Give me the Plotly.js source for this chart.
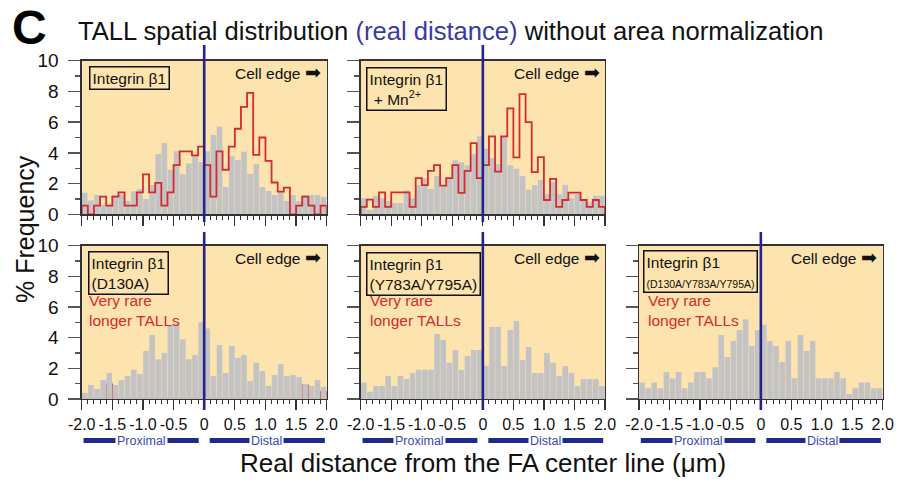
<!DOCTYPE html>
<html>
<head>
<meta charset="utf-8">
<script src="https://cdn.plot.ly/plotly-3.0.1.min.js"></script>
<style>html,body{margin:0;padding:0;background:#fff;}#chart{width:910px;height:482px;}</style>
</head>
<body>
<div id="chart"></div>
<script>
// ---------- DATA ----------
const binWidth = 0.1;
const binCenters = [-1.95,-1.85,-1.75,-1.65,-1.55,-1.45,-1.35,-1.25,-1.15,-1.05,
                    -0.95,-0.85,-0.75,-0.65,-0.55,-0.45,-0.35,-0.25,-0.15,-0.05,
                     0.05, 0.15, 0.25, 0.35, 0.45, 0.55, 0.65, 0.75, 0.85, 0.95,
                     1.05, 1.15, 1.25, 1.35, 1.45, 1.55, 1.65, 1.75, 1.85, 1.95];
const xTickVals = [-2,-1.5,-1,-0.5,0,0.5,1,1.5,2];
const xTickText = ['-2.0','-1.5','-1.0','-0.5','0','0.5','1.0','1.5','2.0'];
const yTickVals = [0,2,4,6,8,10];

// Integrin β1 (all TALLs, gray) and longer TALLs (red outline)
const grayB1 = [1.4,0.9,1.26,0.6,0.57,1.26,1.3,0.87,1.5,1.65,
                1.0,1.9,3.93,4.65,2.9,4.1,2.6,3.3,3.8,3.4,
                4.1,5.17,5.7,1.78,3.8,3.54,4.07,2.63,3.28,1.78,
                1.52,1.26,1.5,0.87,1.26,0.87,1.26,1.26,1.26,1.13];
const redB1  = [0.57,0,0.57,1.15,0.57,1.15,1.43,0.57,0.57,1.43,
                2.6,1.43,2.04,0.57,1.43,3.2,4.1,4.1,3.83,4.4,
                3.2,1.15,4.1,2.9,4.4,5.57,7.0,7.9,3.87,5.0,
                3.48,2.07,1.48,1.74,0,0.57,1.15,0.57,0,0.57];
// Integrin β1 + Mn2+
const grayMn = [1.04,0.3,1.2,1.04,0.87,0.74,0.74,1.56,1.04,1.9,
                2.35,1.65,2.5,1.9,2.35,3.52,3.39,3.2,3.93,5.07,
                4.26,3.67,3.28,5.07,3.2,2.96,2.5,1.6,1.9,2.24,
                1.33,2.1,1.3,1.9,1.04,1.33,0.93,0.78,1.2,1.2];
const redMn  = [0.48,0.96,0.48,1.43,0.48,1.43,1.43,1.43,0.48,2.35,
                1.9,2.83,3.2,1.87,2.35,3.2,1.39,2.83,4.63,2.35,
                3.2,5.07,2.78,5.07,6.9,3.7,7.83,6.0,2.74,3.72,
                0.93,2.3,0.48,0.93,1.41,1.41,0.93,0.48,0.93,0.48];
// Integrin β1 (D130A)
const grayD130A = [0.39,0.91,0.65,1.24,1.7,0.91,1.24,1.5,1.9,1.63,
                   3.13,4.17,2.6,3.0,4.83,4.93,3.9,2.6,2.87,5.0,
                   4.6,1.5,3.52,1.7,3.46,2.67,2.87,1.17,2.37,1.83,
                   0.85,1.57,2.28,1.5,1.57,1.43,0.95,0.85,1.24,0.78];
const redD130A  = [0,0,0,0,0.98,0,0,0,0,0,
                   0,0,0,0,0,0,0,0,0,0,
                   0,0,0,0,0,0,0,0,0,0,
                   0,0,0,0,0,0,0.9,0,0,0.48];
// Integrin β1 (Y783A/Y795A)
const grayY783A = [1.07,0.48,0.85,0.85,1.5,0.85,1.5,1.3,1.7,1.9,
                   1.9,1.9,4.24,3.85,2.37,3.2,1.9,2.8,3.2,3.2,
                   2.15,4.7,4.7,2.15,4.5,5.09,2.54,3.39,1.7,1.7,
                   3.0,2.37,1.5,2.15,1.7,0.85,1.3,1.3,1.3,0.85];
// Integrin β1 (D130A/Y783A/Y795A)
const grayTriple = [1.07,0.7,1.07,0.7,1.76,1.35,1.76,0.7,1.07,1.76,
                    1.76,1.35,2.07,4.17,2.74,3.78,4.5,5.2,3.46,4.5,
                    4.85,3.78,3.46,2.41,3.78,1.35,4.17,3.13,3.78,1.35,
                    1.35,1.35,1.76,1.35,0.33,0.7,1.07,1.07,0.7,0.7];

// ---------- HELPERS ----------
const W = 910, H = 482;
const px = v => v / W;
const py = v => 1 - v / H;
const FONT = 'Liberation Sans, Arial, Helvetica, sans-serif';
const GRAY = '#c3c3c3';
const RED = '#d42a30';
const NAVY = '#23238c';
const BG = '#fde3ae';

function stepLine(vals) {
  const xs = [binCenters[0] - binWidth / 2], ys = [0];
  vals.forEach((v, i) => {
    xs.push(binCenters[i] - binWidth / 2, binCenters[i] + binWidth / 2);
    ys.push(v, v);
  });
  xs.push(binCenters[binCenters.length - 1] + binWidth / 2);
  ys.push(0);
  return {x: xs, y: ys};
}
function barTrace(vals, xa, ya) {
  return {type: 'bar', x: binCenters, y: vals, xaxis: xa, yaxis: ya,
          marker: {color: GRAY, line: {width: 0}}, hoverinfo: 'skip'};
}
function redTrace(vals, xa, ya, w) {
  const s = stepLine(vals);
  return {type: 'scatter', mode: 'lines', x: s.x, y: s.y, xaxis: xa, yaxis: ya,
          line: {color: RED, width: w}, cliponaxis: false, hoverinfo: 'skip'};
}

const data = [
  barTrace(grayB1, 'x', 'y'),
  redTrace(redB1, 'x', 'y', 1.8),
  barTrace(grayMn, 'x2', 'y2'),
  redTrace(redMn, 'x2', 'y2', 1.8),
  redTrace(redD130A, 'x3', 'y3', 1.1),
  barTrace(grayD130A, 'x3', 'y6'),
  barTrace(grayY783A, 'x4', 'y4'),
  barTrace(grayTriple, 'x5', 'y5')
];

function xAxis(domain, anchor, labels) {
  return {domain: domain, anchor: anchor, range: [-2, 2], autorange: false,
          tickmode: 'array', tickvals: xTickVals, ticktext: xTickText,
          showticklabels: labels, ticks: 'outside', ticklen: 10, tickwidth: 1.2, tickcolor: '#333',
          minor: {tick0: 0, dtick: 0.1, ticks: 'outside', ticklen: 4, tickwidth: 1, tickcolor: '#333'},
          tickfont: {family: FONT, size: 16, color: '#111'},
          showgrid: false, zeroline: false, showline: true, linecolor: '#333', linewidth: 1.3,
          mirror: true, automargin: false, fixedrange: true};
}
function yAxis(domain, anchor, labels) {
  return {domain: domain, anchor: anchor, range: [0, 10], autorange: false,
          tickmode: 'array', tickvals: yTickVals,
          showticklabels: labels, ticks: 'outside', ticklen: 12, tickwidth: 1.3, tickcolor: '#555',
          ticklabelstandoff: 6,
          minor: {tickvals: [1,3,5,7,9], ticks: 'outside', ticklen: 5, tickwidth: 1.2, tickcolor: '#555'},
          tickfont: {family: FONT, size: 19, color: '#111'},
          showgrid: false, zeroline: false, showline: true, linecolor: '#333', linewidth: 1.3,
          mirror: true, automargin: false, fixedrange: true};
}

const xd1 = [px(81.7), px(326.7)], xd2 = [px(360.7), px(605)], xd5 = [px(639), px(882.7)];
const ydTop = [py(214.3), py(60.7)], ydBot = [py(399), py(245.7)];

const shapes = [];
[['x', 45, 222], ['x2', 45, 222], ['x3', 232, 410], ['x4', 232, 410], ['x5', 232, 410]].forEach(([xa, top, bot]) => {
  shapes.push({type: 'line', xref: xa, yref: 'paper', x0: 0, x1: 0, y0: py(bot), y1: py(top),
               line: {color: NAVY, width: 2.6}});
});
const annotations = [];
['x3', 'x4', 'x5'].forEach(xa => {
  [[-1.97, -0.09], [0.09, 1.97]].forEach(([a, b]) => {
    shapes.push({type: 'line', xref: xa, yref: 'paper', x0: a, x1: b, y0: py(440.5), y1: py(440.5),
                 line: {color: '#1f2b8a', width: 5}});
  });
  annotations.push({xref: xa, yref: 'paper', x: -1.03, y: py(440.5), text: 'Proximal', showarrow: false,
                    xanchor: 'center', yanchor: 'middle', bgcolor: '#ffffff', borderpad: 1,
                    font: {family: FONT, size: 12.5, color: '#3a48b4'}});
  annotations.push({xref: xa, yref: 'paper', x: 1.02, y: py(440.5), text: 'Distal', showarrow: false,
                    xanchor: 'center', yanchor: 'middle', bgcolor: '#ffffff', borderpad: 1,
                    font: {family: FONT, size: 12.5, color: '#3a48b4'}});
});

function boxNote(text, x, y) {
  annotations.push({xref: 'paper', yref: 'paper', x: px(x), y: py(y), text: text, showarrow: false,
                    xanchor: 'left', yanchor: 'top', align: 'left', bordercolor: '#111', borderwidth: 1.5,
                    borderpad: 2, font: {family: FONT, size: 15.5, color: '#111'}});
}
boxNote('Integrin β1', 89, 65.7);
boxNote('Integrin β1<br>\u00a0+ Mn<sup>2+</sup>', 366, 67);
boxNote('Integrin β1<br>(D130A)', 88, 250.5);
boxNote('Integrin β1<br>(Y783A/Y795A)', 366, 251.5);
boxNote('Integrin β1<br><span style="font-size:10.5px">(D130A/Y783A/Y795A)</span>', 643, 250);

[[323, 72], [602, 72], [323, 257], [602, 257], [879, 257]].forEach(([x, y]) => {
  annotations.push({xref: 'paper', yref: 'paper', x: px(x), y: py(y),
                    text: 'Cell edge <span style="font-size:19px">\u27A1</span>', showarrow: false,
                    xanchor: 'right', yanchor: 'middle', font: {family: FONT, size: 15.5, color: '#111'}});
});
[87, 368, 646].forEach(x => {
  annotations.push({xref: 'paper', yref: 'paper', x: px(x), y: py(290), text: 'Very rare<br>longer TALLs',
                    showarrow: false, xanchor: 'left', yanchor: 'top', align: 'left',
                    font: {family: FONT, size: 15.5, color: RED}});
});

annotations.push({xref: 'paper', yref: 'paper', x: px(11), y: py(0), text: '<b>C</b>', showarrow: false,
                  xanchor: 'left', yanchor: 'top', borderpad: 0, font: {family: FONT, size: 48, color: '#000'}});
annotations.push({xref: 'paper', yref: 'paper', x: px(76), y: py(31),
                  text: 'TALL spatial distribution <span style="color:#3a3aa6">(real distance)</span> without area normalization',
                  showarrow: false, xanchor: 'left', yanchor: 'middle', font: {family: FONT, size: 25.6, color: '#111'}});
annotations.push({xref: 'paper', yref: 'paper', x: px(25), y: py(229), text: '% Frequency', textangle: -90,
                  showarrow: false, xanchor: 'center', yanchor: 'middle', font: {family: FONT, size: 25, color: '#111'}});
annotations.push({xref: 'paper', yref: 'paper', x: px(483), y: py(463), text: 'Real distance from the FA center line (μm)',
                  showarrow: false, xanchor: 'center', yanchor: 'middle', font: {family: FONT, size: 26, color: '#111'}});

const layout = {
  width: W, height: H, margin: {l: 0, r: 0, t: 0, b: 0},
  paper_bgcolor: '#ffffff', plot_bgcolor: BG, showlegend: false,
  bargap: 0.08, barmode: 'overlay',
  font: {family: FONT, color: '#111'},
  xaxis: xAxis(xd1, 'y', false), yaxis: yAxis(ydTop, 'x', true),
  xaxis2: xAxis(xd2, 'y2', false), yaxis2: yAxis(ydTop, 'x2', false),
  xaxis3: xAxis(xd1, 'y3', true), yaxis3: yAxis(ydBot, 'x3', true),
  xaxis4: xAxis(xd2, 'y4', true), yaxis4: yAxis(ydBot, 'x4', false),
  xaxis5: xAxis(xd5, 'y5', true), yaxis5: yAxis(ydBot, 'x5', false),
  yaxis6: {overlaying: 'y3', anchor: 'x3', range: [0, 10], autorange: false, visible: false, fixedrange: true},
  shapes: shapes, annotations: annotations
};

Plotly.newPlot('chart', data, layout, {staticPlot: true, displayModeBar: false});
</script>
</body>
</html>
